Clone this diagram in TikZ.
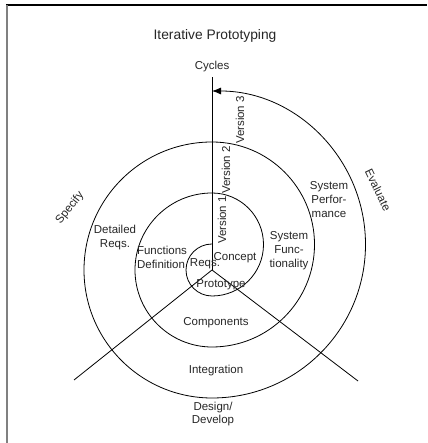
\documentclass[tikz,border=0pt]{standalone}
\usepackage{fontspec}
\setmainfont{Liberation Sans}
\usepackage{tikz}
\usetikzlibrary{arrows}
\usetikzlibrary{arrows.meta}
\usetikzlibrary{positioning}

\begin{document}
\begin{tikzpicture}[>=latex', x=1pt, y=1pt, line width=0.8pt,
                    phase/.style = {inner sep=0pt, align=center, text=black!85,
                                    font=\fontsize{11.5}{14}\selectfont},
                    version/.style = {phase, rotate=90},
                    spiral/.style = {-{Latex[length=9pt,width=7pt]}}]
  \useasboundingbox (0,0) rectangle (427,443);
  % frame
  \draw [black, line width=1.2pt] (6,438) -- (427,438);
  \draw [black!50, line width=2pt] (7,438) -- (7,0);

  \coordinate (o) at (212,173);
  \coordinate (top) at (212,366);
  \coordinate (sw) at (74,63);
  \coordinate (se) at (358,62);

  \draw (o) -- (top);
  \draw (o) -- (sw);
  \draw (o) -- (se);

  % spiral: left halves round o, right halves round o shifted up
  \draw [spiral] (212,199)
    arc [start angle=90, end angle=270, radius=26]
    arc [start angle=-90, end angle=90, radius=51.5]
    arc [start angle=90, end angle=270, radius=77]
    arc [start angle=-90, end angle=90, radius=102.5]
    arc [start angle=90, end angle=270, radius=128]
    arc [start angle=-90, end angle=90, radius=153.5];

  \node [phase, font=\fontsize{13.8}{16}\selectfont] (title) at (215,407) {Iterative Prototyping};
  \node [phase] (cycles) at (212,376) {Cycles};

  \node [version] (v1) at (222,223) {Version 1};
  \node [version] (v2) at (226,273) {Version 2};
  \node [version] (v3) at (240,323) {Version 3};

  \node [phase, rotate=52] (specify) at (70,235) {Specify};
  \node [phase, rotate=-64] (evaluate) at (378,253) {Evaluate};

  \node [phase] (detreqs) at (115,205) {Detailed\\Reqs.};
  \node [phase, align=left] (funcdef) at (162,186) {Functions\\Definition};
  \node [phase] (reqs) at (205,179) {Reqs.};
  \node [phase] (concept) at (235,185) {Concept};
  \node [phase] (proto) at (221,158) {Prototype};
  \node [phase] (sysfunc) at (289,192) {System\\Func-\\tionality};
  \node [phase] (sysperf) at (329,243) {System\\Perfor-\\mance};
  \node [phase] (comp) at (216,120) {Components};
  \node [phase] (integ) at (216,72) {Integration};
  \node [phase, font=\fontsize{11.5}{13}\selectfont] (design) at (213,29) {Design/\\Develop};
\end{tikzpicture}
\end{document}
